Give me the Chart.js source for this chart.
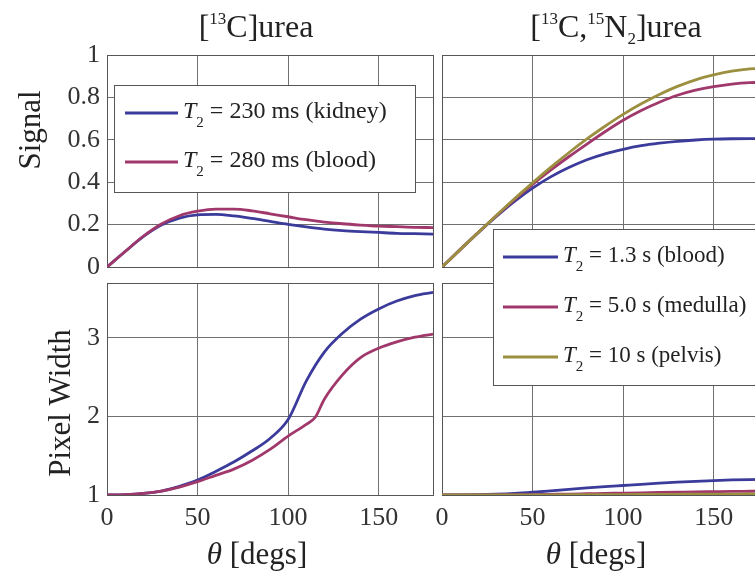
<!DOCTYPE html>
<html>
<head>
<meta charset="utf-8">
<title>urea</title>
<script src="https://cdn.jsdelivr.net/npm/chart.js@4.4.1/dist/chart.umd.min.js"></script>
<style>
	html, body { margin:0; padding:0; background:#fff; }
	#lienzo { position:relative; width:755px; height:579px; overflow:hidden; background:#fff; }
	#lienzo div { position:absolute; }
</style>
</head>
<body>
<div id="lienzo">
	<div style="left:0;top:0;width:440px;height:275px"><canvas id="senal13c" width="440" height="275"></canvas></div>
	<div style="left:436px;top:0;width:340px;height:275px"><canvas id="senal15n" width="340" height="275"></canvas></div>
	<div style="left:0;top:275px;width:440px;height:304px"><canvas id="ancho13c" width="440" height="304"></canvas></div>
	<div style="left:436px;top:220px;width:340px;height:359px"><canvas id="ancho15n" width="340" height="359"></canvas></div>
</div>
<script>

var FUENTE = "'Liberation Serif', 'Times New Roman', serif";
var AZUL = '#3b3b9b';
var ROSA = '#a0386c';
var OLIVA = '#9c8f3f';
var REJILLA = '#707070';

// angulo de inclinacion (grados)
var theta = [0,10,20,30,40,50,60,70,80,90,100,110,120,130,140,150,160,170,180];
var thetaSangre13C = [0,10,20,30,40,50,60,70,80,90,100,110,115,120,130,140,150,160,170,180];

// [13C]urea - señal
var senalRinon13C = [0,0.073,0.143,0.198,0.231,0.246,0.248,0.241,0.229,0.215,0.201,0.189,0.179,0.172,0.167,0.163,0.159,0.157,0.155];
var senalSangre13C = [0,0.073,0.145,0.203,0.242,0.263,0.273,0.273,0.265,0.251,0.237,0.223,0.212,0.204,0.198,0.193,0.19,0.187,0.186];

// [13C,15N2]urea - señal
var senalSangre15N = [0,0.082,0.162,0.238,0.309,0.372,0.425,0.469,0.506,0.534,0.555,0.572,0.584,0.593,0.599,0.603,0.605,0.606,0.606];
var senalMedula15N = [0,0.082,0.163,0.242,0.318,0.39,0.457,0.52,0.58,0.638,0.692,0.738,0.777,0.81,0.834,0.851,0.863,0.87,0.872];
var senalPelvis15N = [0,0.082,0.163,0.243,0.322,0.397,0.47,0.539,0.604,0.664,0.72,0.77,0.814,0.852,0.883,0.906,0.924,0.935,0.938];

// [13C]urea - ancho de pixel
var anchoRinon13C = [1,1.005,1.02,1.05,1.11,1.19,1.3,1.42,1.56,1.72,1.96,2.45,2.82,3.06,3.24,3.37,3.47,3.54,3.58];
var anchoSangre13C = [1,1.005,1.02,1.05,1.1,1.17,1.25,1.33,1.44,1.58,1.75,1.9,1.99,2.22,2.53,2.75,2.87,2.95,3.01,3.05];

// [13C,15N2]urea - ancho de pixel
var anchoSangre15N = [1,1.001,1.004,1.01,1.02,1.035,1.053,1.072,1.09,1.106,1.121,1.136,1.15,1.163,1.174,1.184,1.192,1.197,1.2];
var anchoMedula15N = [1,1,1.001,1.002,1.004,1.006,1.009,1.012,1.016,1.02,1.024,1.028,1.032,1.036,1.04,1.043,1.046,1.048,1.05];
var anchoPelvis15N = [1,1,1,1,1.001,1.001,1.002,1.003,1.004,1.005,1.006,1.007,1.008,1.009,1.01,1.011,1.012,1.013,1.013];

var ticksTheta = [0,50,100,150];
var ticksSenal = [0,0.2,0.4,0.6,0.8,1];
var ticksAncho = [1,2,3];

var leyenda13C = ['230 ms (kidney)', '280 ms (blood)'];
var leyenda15N = ['1.3 s (blood)', '5.0 s (medulla)', '10 s (pelvis)'];


function puntos(xs, ys){
	return ys.map(function(y, i){ return {x: xs[i], y: y}; });
}

function serie(texto, color, xs, ys, orden){
	return {
		label: 'T₂ = ' + texto,
		corto: texto,
		data: puntos(xs, ys),
		borderColor: color,
		backgroundColor: color,
		borderWidth: 2.8,
		pointRadius: 0,
		fill: false,
		cubicInterpolationMode: 'monotone',
		order: orden
	};
}

function dibujarRico(ctx, piezas, x, y, alinear){
	var total = 0;
	piezas.forEach(function(p){
		ctx.font = (p.cursiva ? 'italic ' : '') + p.tam + 'px ' + FUENTE;
		p.ancho = ctx.measureText(p.t).width;
		total += p.ancho;
	});
	var cx = (alinear === 'center') ? x - total/2 : x;
	ctx.textAlign = 'left';
	ctx.textBaseline = 'alphabetic';
	piezas.forEach(function(p){
		ctx.font = (p.cursiva ? 'italic ' : '') + p.tam + 'px ' + FUENTE;
		ctx.fillText(p.t, cx, y + (p.dy || 0));
		cx += p.ancho;
	});
}

function crearPlugin(cfg){
	return {
		id: 'textos',
		beforeDatasetsDraw: function(chart){
			var ctx = chart.ctx, a = chart.chartArea;
			ctx.save();
			ctx.strokeStyle = '#555';
			ctx.lineWidth = 1;
			ctx.strokeRect(Math.round(a.left) + 0.5, Math.round(a.top) + 0.5, Math.round(a.right - a.left), Math.round(a.bottom - a.top));
			ctx.restore();
		},
		afterDraw: function(chart){
			var ctx = chart.ctx;
			ctx.save();
			ctx.fillStyle = '#222';
			(cfg.textos || []).forEach(function(t){
				ctx.save();
				ctx.translate(t.x, t.y);
				if(t.girar){ ctx.rotate(-Math.PI/2); }
				dibujarRico(ctx, t.piezas, 0, 0, 'center');
				ctx.restore();
			});
			var L = cfg.leyenda;
			if(L){
				ctx.fillStyle = '#fff';
				ctx.fillRect(L.x, L.y, L.w, L.h);
				ctx.strokeStyle = '#555';
				ctx.lineWidth = 1;
				ctx.strokeRect(L.x + 0.5, L.y + 0.5, L.w, L.h);
				chart.data.datasets.forEach(function(ds, i){
					var ly = L.y + L.primera + i*L.paso;
					ctx.strokeStyle = ds.borderColor;
					ctx.lineWidth = 2.8;
					ctx.beginPath();
					ctx.moveTo(L.x + L.linea[0], ly);
					ctx.lineTo(L.x + L.linea[1], ly);
					ctx.stroke();
					ctx.fillStyle = '#222';
					dibujarRico(ctx, [
						{t:'T', tam:L.tam, cursiva:true},
						{t:'2', tam:15, dy:9},
						{t:' = ' + ds.corto, tam:L.tam}
					], L.x + L.linea[1] + 5, ly + 5, 'left');
				});
			}
			ctx.restore();
		}
	};
}

function formatoTick(v){
	return String(Math.round(v*10)/10);
}

function crearPanel(id, cfg){
	var ejeY = {
		type: 'linear',
		min: cfg.yMin,
		max: cfg.yMax,
		afterBuildTicks: function(s){ s.ticks = cfg.yTicks.map(function(v){ return {value: v}; }); },
		afterFit: function(s){ s.width = cfg.anchoY; s.paddingTop = 0; s.paddingBottom = 0; },
		grid: { color: REJILLA, lineWidth: 1, drawTicks: false },
		border: { display: false },
		ticks: { display: cfg.etiquetasY, font: {family: FUENTE, size: 26}, color: '#333', padding: 7, callback: formatoTick }
	};
	var ejeX = {
		type: 'linear',
		min: 0,
		max: 180,
		afterBuildTicks: function(s){ s.ticks = ticksTheta.map(function(v){ return {value: v}; }); },
		afterFit: function(s){ s.height = cfg.altoX; s.paddingLeft = 0; s.paddingRight = 0; },
		grid: { color: REJILLA, lineWidth: 1, drawTicks: false },
		border: { display: false },
		ticks: { display: cfg.etiquetasX, font: {family: FUENTE, size: 26}, color: '#333', padding: 8, maxRotation: 0, autoSkip: false, callback: formatoTick }
	};
	return new Chart(document.getElementById(id), {
		type: 'line',
		data: { datasets: cfg.series },
		options: {
			responsive: false,
			animation: false,
			events: [],
			layout: { padding: cfg.relleno },
			scales: { x: ejeX, y: ejeY },
			plugins: { legend: { display: false }, tooltip: { enabled: false } }
		},
		plugins: [crearPlugin(cfg)]
	});
}

var tituloTheta = [{t:'θ', tam:31, cursiva:true}, {t:' [degs]', tam:31}];

crearPanel('senal13c', {
	series: [
		serie(leyenda13C[0], AZUL, theta, senalRinon13C, 2),
		serie(leyenda13C[1], ROSA, theta, senalSangre13C, 1)
	],
	yMin: 0, yMax: 1, yTicks: ticksSenal, etiquetasY: true, etiquetasX: false,
	anchoY: 107, altoX: 8,
	relleno: {top: 55, right: 7, bottom: 0, left: 0},
	textos: [
		{x: 256, y: 37, piezas: [{t:'[', tam:32}, {t:'13', tam:17, dy:-13}, {t:'C]urea', tam:32}]},
		{x: 40, y: 130, girar: true, piezas: [{t:'Signal', tam:31}]}
	],
	leyenda: {x: 114, y: 85, w: 301, h: 107, primera: 28, paso: 49, linea: [11, 64], tam: 24}
});

crearPanel('senal15n', {
	series: [
		serie(leyenda15N[0], AZUL, theta, senalSangre15N, 2),
		serie(leyenda15N[1], ROSA, theta, senalMedula15N, 1),
		serie(leyenda15N[2], OLIVA, theta, senalPelvis15N, 0)
	],
	yMin: 0, yMax: 1, yTicks: ticksSenal, etiquetasY: false, etiquetasX: false,
	anchoY: 6, altoX: 8,
	relleno: {top: 55, right: 8, bottom: 0, left: 0},
	textos: [
		{x: 180, y: 37, piezas: [{t:'[', tam:32}, {t:'13', tam:17, dy:-13}, {t:'C,', tam:32}, {t:'15', tam:17, dy:-13}, {t:'N', tam:32}, {t:'2', tam:17, dy:7}, {t:']urea', tam:32}]}
	]
});

crearPanel('ancho13c', {
	series: [
		serie(leyenda13C[0], AZUL, theta, anchoRinon13C, 2),
		serie(leyenda13C[1], ROSA, thetaSangre13C, anchoSangre13C, 1)
	],
	yMin: 1, yMax: 3.7, yTicks: ticksAncho, etiquetasY: true, etiquetasX: true,
	anchoY: 107, altoX: 84,
	relleno: {top: 8, right: 7, bottom: 0, left: 0},
	textos: [
		{x: 70, y: 128, girar: true, piezas: [{t:'Pixel Width', tam:31}]},
		{x: 257, y: 289, piezas: tituloTheta}
	]
});

crearPanel('ancho15n', {
	series: [
		serie(leyenda15N[0], AZUL, theta, anchoSangre15N, 2),
		serie(leyenda15N[1], ROSA, theta, anchoMedula15N, 1),
		serie(leyenda15N[2], OLIVA, theta, anchoPelvis15N, 0)
	],
	yMin: 1, yMax: 3.7, yTicks: ticksAncho, etiquetasY: false, etiquetasX: true,
	anchoY: 6, altoX: 84,
	relleno: {top: 63, right: 8, bottom: 0, left: 0},
	textos: [
		{x: 160, y: 344, piezas: tituloTheta}
	],
	leyenda: {x: 57, y: 9, w: 270, h: 156, primera: 28, paso: 50, linea: [10, 65], tam: 23}
});
</script>
</body>
</html>
